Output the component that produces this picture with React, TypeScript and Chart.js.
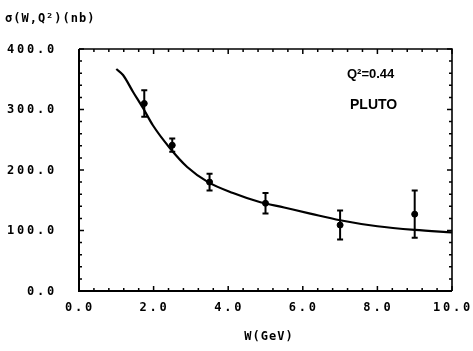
import React, { useEffect, useRef } from "react";
import { Chart, registerables } from "chart.js";

Chart.register(...registerables);

const curveW = [1.0, 1.18, 1.45, 1.72, 1.98, 2.44, 2.9, 3.46, 4.13, 4.8, 5.5, 6.2, 7.0, 8.0, 9.0, 10.0];
const curveSigma = [367, 357, 329, 302, 274, 236, 205, 180, 162, 148, 138, 128, 117, 107, 101, 97];

const dataW = [1.75, 2.5, 3.5, 5.0, 7.0, 9.0];
const dataSigma = [310, 241, 180, 145, 109, 127];
const dataErr = [22, 11, 14, 17, 24, 39];

const xTicks = [0, 2, 4, 6, 8, 10];
const yTicks = [0, 100, 200, 300, 400];

const MONO = "'DejaVu Sans Mono', monospace";

const framePlugin = {
  id: "frameTicks",
  afterDraw(chart: any) {
    const { ctx, chartArea: a, scales } = chart;
    const xs = scales.x;
    const ys = scales.y;
    ctx.save();
    ctx.strokeStyle = "#000";
    ctx.lineWidth = 2;
    ctx.beginPath();
    ctx.moveTo(a.left, a.top);
    ctx.lineTo(a.left, a.bottom);
    ctx.lineTo(a.right, a.bottom);
    ctx.stroke();
    ctx.lineWidth = 1.6;
    ctx.beginPath();
    ctx.moveTo(a.left, a.top);
    ctx.lineTo(a.right, a.top);
    ctx.lineTo(a.right, a.bottom);
    ctx.stroke();
    ctx.lineWidth = 1.5;
    for (let i = 0; i <= 25; i++) {
      const px = xs.getPixelForValue(i * 0.4);
      const len = i % 5 === 0 ? 5 : 3;
      ctx.beginPath();
      ctx.moveTo(px, a.bottom);
      ctx.lineTo(px, a.bottom - len);
      ctx.moveTo(px, a.top);
      ctx.lineTo(px, a.top + len);
      ctx.stroke();
    }
    for (let i = 0; i <= 20; i++) {
      const py = ys.getPixelForValue(i * 20);
      const len = i % 5 === 0 ? 5 : 3;
      ctx.beginPath();
      ctx.moveTo(a.left, py);
      ctx.lineTo(a.left + len, py);
      ctx.moveTo(a.right, py);
      ctx.lineTo(a.right - len, py);
      ctx.stroke();
    }
    // error bars
    ctx.lineWidth = 2;
    for (let i = 0; i < dataW.length; i++) {
      const px = xs.getPixelForValue(dataW[i]);
      const pt = ys.getPixelForValue(dataSigma[i] + dataErr[i]);
      const pb = ys.getPixelForValue(dataSigma[i] - dataErr[i]);
      ctx.beginPath();
      ctx.moveTo(px, pt);
      ctx.lineTo(px, pb);
      ctx.moveTo(px - 3, pt);
      ctx.lineTo(px + 3, pt);
      ctx.moveTo(px - 3, pb);
      ctx.lineTo(px + 3, pb);
      ctx.stroke();
    }
    // tick labels
    ctx.fillStyle = "#000";
    ctx.font = `bold 12px ${MONO}`;
    (ctx as any).letterSpacing = "2.8px";
    ctx.textBaseline = "middle";
    ctx.textAlign = "right";
    for (const v of yTicks) {
      ctx.fillText(v.toFixed(1), 57, ys.getPixelForValue(v) + 0.5);
    }
    ctx.textAlign = "center";
    for (const v of xTicks) {
      ctx.fillText(v.toFixed(1), xs.getPixelForValue(v) + 1, 308);
    }
    (ctx as any).letterSpacing = "1px";
    ctx.textAlign = "left";
    ctx.fillText("σ(W,Q²)(nb)", 5, 19);
    ctx.textAlign = "center";
    ctx.fillText("W(GeV)", 269, 337);
    (ctx as any).letterSpacing = "0px";
    ctx.textAlign = "left";
    ctx.font = "bold 13px 'Liberation Sans', sans-serif";
    ctx.fillText("Q²=0.44", 347, 74);
    ctx.font = "bold 14px 'Liberation Sans', sans-serif";
    ctx.fillText("PLUTO", 350, 105);
    ctx.restore();
  },
};

export default function App() {
  const ref = useRef<HTMLCanvasElement | null>(null);
  useEffect(() => {
    document.body.style.margin = "0";
    const canvas = ref.current!;
    const chart = new Chart(canvas, {
      type: "scatter",
      data: {
        datasets: [
          {
            type: "line",
            data: curveW.map((w, i) => ({ x: w, y: curveSigma[i] })),
            borderColor: "#000",
            borderWidth: 2.2,
            pointRadius: 0,
            cubicInterpolationMode: "monotone",
            fill: false,
          } as any,
          {
            type: "scatter",
            data: dataW.map((w, i) => ({ x: w, y: dataSigma[i] })),
            backgroundColor: "#000",
            borderColor: "#000",
            pointRadius: 3,
          },
        ],
      },
      options: {
        responsive: false,
        animation: false,
        devicePixelRatio: 1,
        layout: { padding: { left: 79, right: 21, top: 49, bottom: 60 } },
        plugins: { legend: { display: false }, tooltip: { enabled: false } },
        scales: {
          x: { type: "linear", min: 0, max: 10, display: false },
          y: { type: "linear", min: 0, max: 400, display: false },
        },
      },
      plugins: [framePlugin],
    });
    return () => chart.destroy();
  }, []);
  return (
    <div style={{ width: 473, height: 351 }}>
      <canvas ref={ref} width={473} height={351} style={{ display: "block" }} />
    </div>
  );
}
